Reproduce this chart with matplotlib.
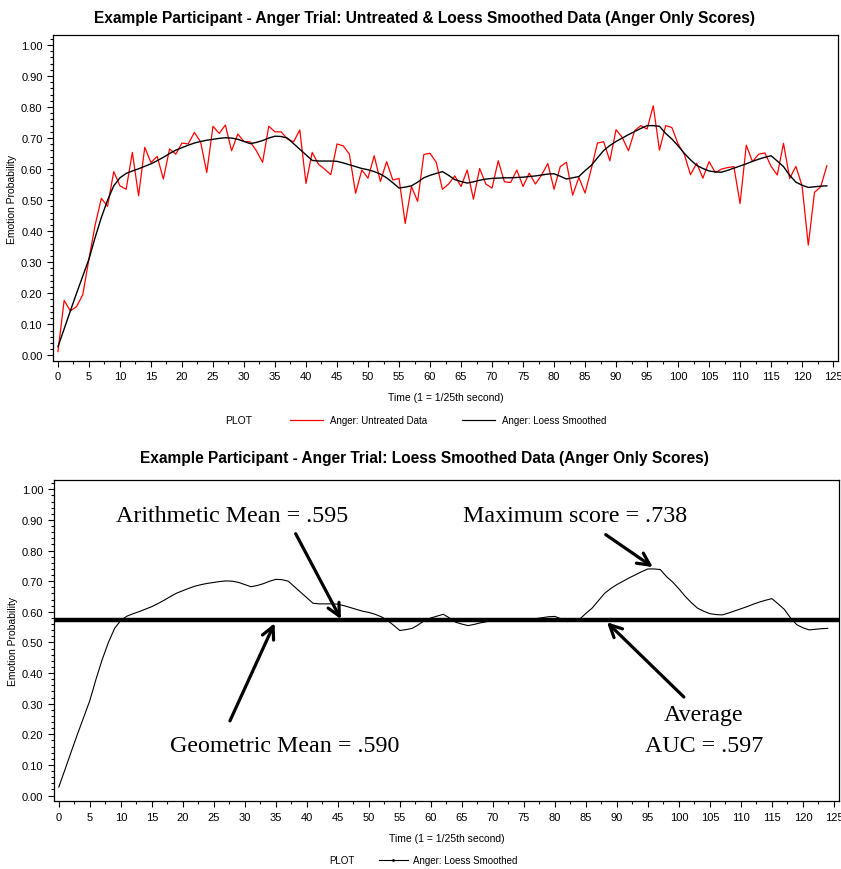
import numpy as np
import matplotlib
matplotlib.use("Agg")
import matplotlib.pyplot as plt
from matplotlib.ticker import MultipleLocator, FormatStrFormatter
from matplotlib.lines import Line2D

# time steps (1 = 1/25th second)
time = np.arange(125)

# untreated anger probabilities
untreated = [
    0.012, 0.177, 0.143, 0.157, 0.195, 0.310, 0.420, 0.506, 0.480, 0.592,
    0.546, 0.535, 0.654, 0.514, 0.670, 0.621, 0.641, 0.568, 0.665, 0.648,
    0.684, 0.681, 0.718, 0.688, 0.589, 0.738, 0.715, 0.742, 0.659, 0.713,
    0.689, 0.688, 0.659, 0.622, 0.738, 0.720, 0.720, 0.697, 0.688, 0.726,
    0.554, 0.654, 0.616, 0.600, 0.582, 0.681, 0.675, 0.648, 0.522, 0.597,
    0.571, 0.643, 0.560, 0.624, 0.565, 0.570, 0.425, 0.544, 0.496, 0.647,
    0.651, 0.622, 0.535, 0.552, 0.578, 0.544, 0.597, 0.503, 0.602, 0.552,
    0.539, 0.627, 0.559, 0.557, 0.597, 0.544, 0.587, 0.552, 0.581, 0.618,
    0.535, 0.608, 0.622, 0.516, 0.573, 0.523, 0.600, 0.684, 0.688, 0.627,
    0.727, 0.702, 0.659, 0.724, 0.740, 0.729, 0.804, 0.661, 0.740, 0.734,
    0.681, 0.648, 0.582, 0.619, 0.571, 0.624, 0.589, 0.600, 0.605, 0.608,
    0.489, 0.677, 0.624, 0.648, 0.652, 0.609, 0.581, 0.683, 0.570, 0.609,
    0.546, 0.355, 0.525, 0.543, 0.611,
]

# loess smoothed anger probabilities
smoothed = [
    0.028, 0.085, 0.143, 0.200, 0.255, 0.310, 0.380, 0.444, 0.500, 0.546,
    0.572, 0.586, 0.594, 0.601, 0.609, 0.617, 0.627, 0.638, 0.650, 0.661,
    0.669, 0.677, 0.684, 0.689, 0.693, 0.696, 0.699, 0.701, 0.700, 0.696,
    0.689, 0.682, 0.686, 0.692, 0.700, 0.706, 0.705, 0.700, 0.682, 0.664,
    0.646, 0.628, 0.626, 0.626, 0.626, 0.625, 0.620, 0.614, 0.608, 0.602,
    0.598, 0.592, 0.584, 0.572, 0.556, 0.539, 0.542, 0.546, 0.558, 0.572,
    0.580, 0.586, 0.592, 0.580, 0.566, 0.560, 0.555, 0.559, 0.564, 0.568,
    0.570, 0.571, 0.572, 0.572, 0.573, 0.574, 0.576, 0.578, 0.581, 0.584,
    0.585, 0.577, 0.568, 0.572, 0.576, 0.595, 0.612, 0.636, 0.660, 0.676,
    0.689, 0.700, 0.711, 0.721, 0.731, 0.740, 0.740, 0.738, 0.715, 0.697,
    0.675, 0.651, 0.630, 0.612, 0.602, 0.594, 0.591, 0.590, 0.596, 0.603,
    0.610, 0.617, 0.625, 0.632, 0.638, 0.643, 0.626, 0.608, 0.580, 0.558,
    0.548, 0.541, 0.543, 0.545, 0.546,
]

auc_level = 0.572

# annotation texts and where they sit
note_text = ["Arithmetic Mean = .595", "Geometric Mean = .590", "Maximum score = .738",
             "Average", "AUC = .597"]
note_xy = [(27.9, 0.913), (36.5, 0.164), (83.3, 0.913), (104.0, 0.264), (104.0, 0.164)]
# arrows: tail -> head
arrow_tail = [(38.2, 0.855), (27.6, 0.244), (88.2, 0.852), (100.8, 0.322)]
arrow_head = [(45.5, 0.576), (34.8, 0.563), (95.8, 0.746), (88.4, 0.566)]

sans = "Liberation Sans"
serif = "Liberation Serif"
plt.rcParams["font.family"] = sans

fig = plt.figure(figsize=(8.41, 8.70), dpi=100)
ax1 = fig.add_axes([0.063, 0.584, 0.9335, 0.3746])
ax2 = fig.add_axes([0.064, 0.078, 0.9335, 0.369])


def style_axes(ax):
    ax.set_xlim(-0.8, 125.8)
    ax.set_ylim(-0.018, 1.03)
    ax.xaxis.set_major_locator(MultipleLocator(5))
    ax.xaxis.set_minor_locator(MultipleLocator(2.5))
    ax.yaxis.set_major_locator(MultipleLocator(0.1))
    ax.yaxis.set_minor_locator(MultipleLocator(0.02))
    ax.yaxis.set_major_formatter(FormatStrFormatter("%.2f"))
    ax.tick_params(which="both", direction="out", labelsize=8, width=0.8)
    ax.tick_params(which="major", length=4)
    ax.tick_params(which="minor", length=2)
    ax.set_xlabel("Time (1 = 1/25th second)", fontsize=7.5, labelpad=8)
    ax.set_ylabel("Emotion Probability", fontsize=7.5)
    ax.yaxis.set_label_coords(-0.046, 0.5)
    for s in ax.spines.values():
        s.set_linewidth(0.9)


# top panel
ax1.plot(time, untreated, color="red", lw=0.9)
ax1.plot(time, smoothed, color="black", lw=1.0)
style_axes(ax1)
ax1.set_ylim(-0.018, 1.032)
fig.text(0.5048, 0.979,
         "Example Participant - Anger Trial: Untreated & Loess Smoothed Data (Anger Only Scores)",
         fontsize=11.2, fontweight="bold", ha="center", va="center")

fig.text(0.268, 0.516, "PLOT", fontsize=7.5, va="center")
h1 = [Line2D([], [], color="red", lw=0.9), Line2D([], [], color="black", lw=0.9)]
fig.legend(h1, ["Anger: Untreated Data", "Anger: Loess Smoothed"], loc="center left",
           bbox_to_anchor=(0.335, 0.516), ncol=2, frameon=False, fontsize=7,
           handlelength=3.3, columnspacing=3.6, handletextpad=0.8)

# bottom panel
ax2.plot(time, smoothed, color="black", lw=0.8)
ax2.axhline(auc_level, color="black", lw=3.2)
style_axes(ax2)
fig.text(0.5048, 0.4735,
         "Example Participant - Anger Trial: Loess Smoothed Data (Anger Only Scores)",
         fontsize=11.2, fontweight="bold", ha="center", va="center")

for label, (tx, ty) in zip(note_text, note_xy):
    ax2.text(tx, ty, label, fontsize=17.3, family=serif, ha="center", va="center")
for tail, head in zip(arrow_tail, arrow_head):
    ax2.annotate("", xy=head, xytext=tail,
                 arrowprops=dict(arrowstyle="->", lw=2.3, color="black", mutation_scale=22,
                                 shrinkA=0, shrinkB=0))

fig.text(0.392, 0.010, "PLOT", fontsize=7, va="center")
h2 = [Line2D([], [], color="black", lw=0.8, marker=".", markersize=2)]
fig.legend(h2, ["Anger: Loess Smoothed"], loc="center left", bbox_to_anchor=(0.44, 0.010),
           frameon=False, fontsize=7, handlelength=3.0, handletextpad=0.5)

fig.savefig("out.png", dpi=100)
